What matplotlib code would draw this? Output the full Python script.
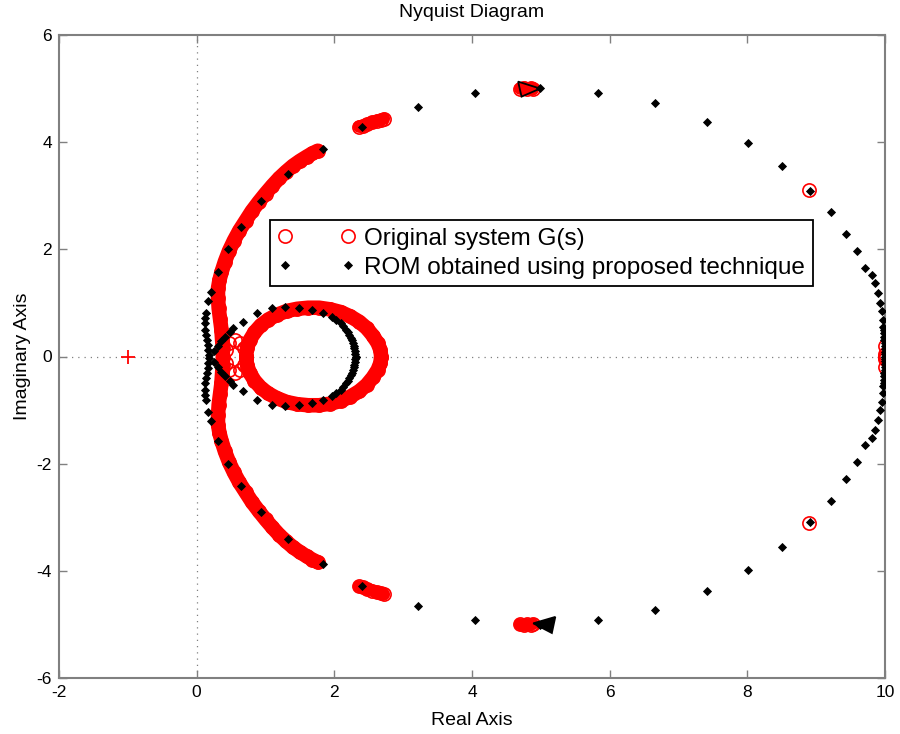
import matplotlib
matplotlib.use("Agg")
import matplotlib.pyplot as plt

plt.rcParams['font.family'] = ['Liberation Sans', 'DejaVu Sans']

# ---------------- data (upper half, Im >= 0; the lower half is the complex conjugate) ----------------
# Original system G(s): isolated frequency points
orig_pts_re = [10.0, 10.0, 10.0, 8.90]
orig_pts_im = [0.0, 0.05, 0.19, 3.11]
# Original system G(s): cluster near the top of the plot
orig_top_re = [4.70, 4.75, 4.80, 4.85, 4.88]
orig_top_im = [5.00, 5.02, 5.00, 5.01, 4.99]
# Original system G(s): cluster near (2.5, 4.35)
orig_mid_re = [2.36, 2.42, 2.48, 2.55, 2.62, 2.68, 2.72]
orig_mid_im = [4.29, 4.31, 4.34, 4.37, 4.40, 4.42, 4.44]
# Original system G(s): dense outer arc (left side)
orig_arc_re = [1.76, 1.68, 1.60, 1.50, 1.40, 1.30, 1.20, 1.10, 1.00, 0.90, 0.80, 0.71,
               0.62, 0.54, 0.47, 0.41, 0.36, 0.33, 0.31, 0.31, 0.32, 0.34, 0.36, 0.37,
               0.38, 0.38]
orig_arc_im = [3.84, 3.79, 3.73, 3.65, 3.56, 3.45, 3.33, 3.19, 3.04, 2.88, 2.71, 2.53,
               2.35, 2.16, 1.97, 1.77, 1.57, 1.42, 1.27, 1.10, 0.90, 0.70, 0.50, 0.30,
               0.15, 0.0]
# Original system G(s): small loop near the origin
orig_small_re = [0.42, 0.47, 0.55, 0.63, 0.69, 0.72]
orig_small_im = [0.12, 0.25, 0.30, 0.26, 0.15, 0.0]
# Original system G(s): dense inner loop
orig_loop_re = [0.72, 0.73, 0.77, 0.84, 0.93, 1.04, 1.17, 1.31, 1.46, 1.62, 1.78, 1.94,
                2.09, 2.23, 2.36, 2.47, 2.56, 2.63, 2.67, 2.68]
orig_loop_im = [0.00, 0.15, 0.30, 0.45, 0.58, 0.69, 0.78, 0.85, 0.89, 0.91, 0.91, 0.88,
                0.83, 0.75, 0.65, 0.53, 0.39, 0.25, 0.12, 0.0]

# ROM obtained using proposed technique
rom_re = [10.0, 10.0, 10.0, 10.0, 10.0, 9.995, 9.99, 9.99, 9.985, 9.98, 9.975, 9.965,
          9.95, 9.93, 9.90, 9.86, 9.81, 9.71, 9.60, 9.44, 9.21, 8.91, 8.51, 8.01,
          7.41, 6.66, 5.83, 4.99, 4.04, 3.22, 2.40, 1.83, 1.33, 0.93, 0.64, 0.45,
          0.31, 0.21, 0.17, 0.14, 0.12, 0.12, 0.12, 0.14, 0.15, 0.16, 0.17, 0.18,
          0.87, 0.68, 0.53, 0.48, 0.41, 0.36, 0.31, 0.25,
          1.09, 1.28, 1.48, 1.67, 1.83, 1.96, 2.03, 2.09, 2.13, 2.17, 2.20, 2.22,
          2.24, 2.26, 2.27, 2.28, 2.29, 2.30, 2.30, 2.31]
rom_im = [0.0, 0.04, 0.09, 0.14, 0.19, 0.25, 0.31, 0.37, 0.43, 0.49, 0.55, 0.68,
          0.84, 0.99, 1.18, 1.38, 1.52, 1.66, 1.97, 2.29, 2.69, 3.09, 3.56, 3.98,
          4.38, 4.73, 4.92, 5.01, 4.92, 4.66, 4.28, 3.87, 3.41, 2.91, 2.42, 2.00,
          1.58, 1.21, 1.04, 0.82, 0.71, 0.62, 0.50, 0.40, 0.31, 0.22, 0.12, 0.03,
          0.82, 0.65, 0.53, 0.46, 0.37, 0.28, 0.20, 0.11,
          0.90, 0.93, 0.90, 0.87, 0.82, 0.74, 0.68, 0.62, 0.56, 0.50, 0.45, 0.40,
          0.35, 0.30, 0.25, 0.20, 0.15, 0.10, 0.05, 0.0]

# direction arrows of the Nyquist plot (upper arrow points right, lower arrow points left)
arrow_up_re = [4.67, 4.72, 4.99]
arrow_up_im = [5.13, 4.85, 5.00]
arrow_dn_re = [4.89, 5.21, 5.16]
arrow_dn_im = [-4.98, -4.86, -5.16]

crit_re, crit_im = [-1.0], [0.0]

x_ticks = [-2, 0, 2, 4, 6, 8, 10]
y_ticks = [-6, -4, -2, 0, 2, 4, 6]


def full(re, im):
    """upper half followed by its complex conjugate (lower half)"""
    return list(re) + list(re[::-1]), list(im) + [-v for v in im[::-1]]


def halves(re, im):
    """upper half and lower half as two separate lists"""
    return [(list(re), list(im)), (list(re), [-v for v in im])]


# ---------------- figure ----------------
fig = plt.figure(figsize=(9.0, 7.34), dpi=100)
ax = fig.add_axes([59 / 900, 56 / 734, 826 / 900, 643 / 734])

grid_kw = dict(color='#808080', lw=0.9, ls=(0, (1, 4)), zorder=0)
ax.axhline(0, **grid_kw)
ax.axvline(0, **grid_kw)

red = '#ff0000'
circ_kw = dict(ls='none', marker='o', ms=9.5, mfc='none', mec=red, mew=1.2, zorder=2)
band_kw = dict(color=red, lw=10.5, solid_capstyle='round', solid_joinstyle='round', zorder=2)

# dense bands of the original system
for re, im in [(orig_arc_re, orig_arc_im), (orig_loop_re, orig_loop_im)]:
    fr, fi = full(re, im)
    ax.plot(fr, fi, **band_kw)
    ax.plot(fr, fi, **circ_kw)
for re, im in [(orig_top_re, orig_top_im), (orig_mid_re, orig_mid_im)]:
    for hr, hi in halves(re, im):
        ax.plot(hr, hi, **dict(band_kw, lw=9))
        ax.plot(hr, hi, **circ_kw)
fr, fi = full(orig_small_re, orig_small_im)
ax.plot(fr, fi, **circ_kw)
fr, fi = full(orig_pts_re, orig_pts_im)
h_orig, = ax.plot(fr, fi, **circ_kw)

# ROM
fr, fi = full(rom_re, rom_im)
h_rom, = ax.plot(fr, fi, ls='none', marker='D', ms=3.8, mfc='black', mec='black', mew=0.6, zorder=4)

# arrows
ax.fill(arrow_up_re, arrow_up_im, facecolor='none', edgecolor='black', lw=1.3, zorder=5)
ax.fill(arrow_dn_re, arrow_dn_im, facecolor='black', edgecolor='black', lw=1.3, zorder=5)

# critical point
ax.plot(crit_re, crit_im, ls='none', marker='+', ms=10, mec=red, mew=1.3, zorder=3)

ax.set_xlim(-2, 10)
ax.set_ylim(-6, 6)
ax.set_xticks(x_ticks)
ax.set_yticks(y_ticks)
ax.set_xticklabels([str(t) for t in x_ticks])
ax.set_yticklabels([str(t) for t in y_ticks])
ax.tick_params(direction='in', length=6, width=1.0, color='#808080', labelsize=12.5,
               top=True, right=True, pad=5, labelcolor='black')
for s in ax.spines.values():
    s.set_color('#808080')
    s.set_linewidth(1.5)

ax.set_title('Nyquist Diagram', fontsize=14, pad=13)
ax.set_xlabel('Real Axis', fontsize=14, labelpad=9)
ax.set_ylabel('Imaginary Axis', fontsize=14, labelpad=4)

leg = ax.legend([h_orig, h_rom], ['Original system G(s)', 'ROM obtained using proposed technique'],
                loc='upper left', bbox_to_anchor=((270 - 59) / 826, (678 - 220) / 643),
                borderaxespad=0, numpoints=2, handlelength=3.2, handletextpad=0.35,
                borderpad=0.32, labelspacing=0.28, fontsize=17.5, fancybox=False,
                framealpha=1, edgecolor='black')
leg.get_frame().set_linewidth(1.3)

fig.savefig('out.png', dpi=100)
